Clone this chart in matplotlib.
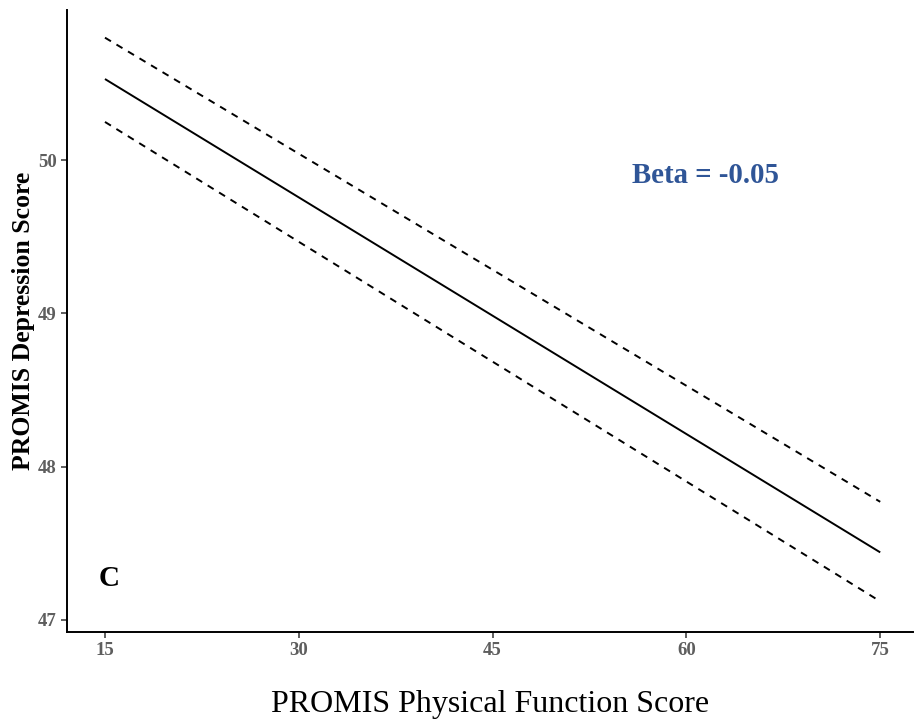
import matplotlib
matplotlib.use("Agg")
import matplotlib.pyplot as plt
import numpy as np

plt.rcParams['font.family'] = ['Liberation Serif', 'DejaVu Serif']

x_vals = [15, 75]
fit = [50.53, 47.44]
upper = [50.80, 47.77]
lower = [50.25, 47.12]
x_ticks = [15, 30, 45, 60, 75]
y_ticks = [47, 48, 49, 50]
beta_text = "Beta = -0.05"
panel_label = "C"

fig = plt.figure(figsize=(9.15, 7.21), dpi=100)
ax = fig.add_axes([0.0732, 0.1234, 0.9248, 0.8626])
ax.plot(x_vals, fit, color='black', lw=1.4, solid_capstyle='butt')
ax.plot(x_vals, upper, color='black', lw=1.4, ls=(0, (3.6, 3.3)))
ax.plot(x_vals, lower, color='black', lw=1.4, ls=(0, (3.6, 3.3)))

ax.set_xlim(12.06, 77.55)
ax.set_ylim(46.92, 50.98)
ax.set_xticks(x_ticks)
ax.set_yticks(y_ticks)
for s in ['top', 'right']:
    ax.spines[s].set_visible(False)
for s in ['left', 'bottom']:
    ax.spines[s].set_linewidth(1.4)
ax.tick_params(axis='both', length=4, width=1.1, color='#333333',
               labelsize=13.5, labelcolor='#5e5e5e')
for lab in ax.get_xticklabels() + ax.get_yticklabels():
    lab.set_fontweight('bold')

ax.set_xlabel("PROMIS Physical Function Score", fontsize=23, labelpad=22)
ax.set_ylabel("PROMIS Depression Score", fontsize=18.5, fontweight='bold', labelpad=2)

ax.text(61.47, 49.9, beta_text, color='#2f5597', fontsize=20.8, fontweight='bold',
        ha='center', va='center')
ax.text(15.35, 47.27, panel_label, color='black', fontsize=21, fontweight='bold',
        ha='center', va='center')

fig.savefig("out.png", dpi=100)
